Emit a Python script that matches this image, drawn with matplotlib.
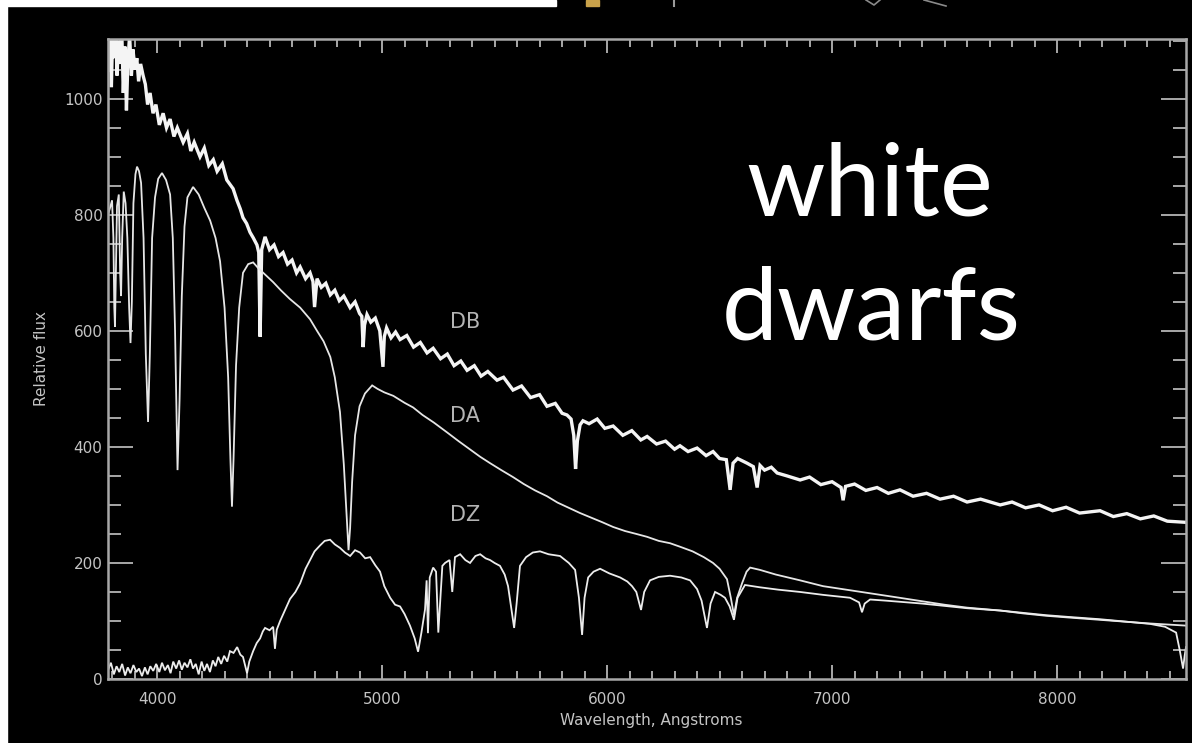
import numpy as np
import matplotlib
matplotlib.use('Agg')
import matplotlib.pyplot as plt
from matplotlib.patches import Rectangle
from matplotlib.lines import Line2D
from matplotlib.ticker import MultipleLocator, FixedLocator

# spectra: (wavelength [A], relative flux)
db_spec = [
    (3782, 1050), (3790, 1110), (3797, 1020), (3803, 1120), (3810, 1070), (3816, 1130),
    (3822, 1040), (3829, 1100), (3836, 1060), (3843, 1120), (3850, 1010), (3857, 1090),
    (3864, 980), (3870, 1060), (3878, 1110), (3886, 1040), (3893, 1085), (3902, 1050),
    (3910, 1070), (3918, 1030), (3927, 1060), (3938, 1040), (3948, 1025), (3958, 990),
    (3969, 1010), (3982, 975), (3995, 990), (4010, 955), (4027, 975), (4042, 950),
    (4058, 965), (4075, 935), (4090, 950), (4116, 925), (4135, 940), (4150, 910),
    (4165, 925), (4191, 900), (4210, 915), (4230, 885), (4250, 895), (4267, 875),
    (4290, 888), (4310, 860), (4338, 845), (4355, 825), (4370, 810), (4382, 795),
    (4398, 785), (4413, 770), (4428, 760), (4444, 748), (4452, 735), (4458, 590),
    (4465, 740), (4480, 762), (4500, 740), (4520, 748), (4540, 728), (4560, 735),
    (4580, 715), (4600, 722), (4620, 700), (4636, 710), (4660, 690), (4680, 700),
    (4693, 685), (4700, 641), (4711, 690), (4730, 675), (4750, 682), (4770, 662),
    (4790, 670), (4810, 652), (4830, 660), (4858, 640), (4880, 650), (4900, 630),
    (4910, 625), (4916, 572), (4922, 610), (4933, 628), (4950, 615), (4970, 622),
    (4990, 600), (5004, 538), (5010, 590), (5020, 605), (5040, 588), (5060, 598),
    (5080, 585), (5110, 592), (5140, 572), (5170, 580), (5200, 562), (5227, 570),
    (5260, 552), (5290, 560), (5320, 540), (5350, 548), (5378, 532), (5410, 540),
    (5440, 522), (5470, 530), (5511, 515), (5540, 520), (5582, 498), (5620, 505),
    (5660, 485), (5700, 490), (5733, 470), (5770, 475), (5800, 458), (5822, 455),
    (5840, 448), (5852, 420), (5860, 362), (5868, 410), (5880, 438), (5893, 445),
    (5920, 440), (5956, 448), (5990, 432), (6027, 436), (6070, 420), (6110, 428),
    (6150, 412), (6178, 418), (6220, 405), (6260, 410), (6300, 396), (6324, 402),
    (6360, 392), (6400, 398), (6440, 385), (6471, 392), (6500, 380), (6530, 378),
    (6547, 326), (6560, 372), (6580, 380), (6622, 372), (6650, 366), (6667, 330),
    (6680, 368), (6700, 360), (6730, 365), (6756, 355), (6800, 350), (6858, 343),
    (6900, 348), (6950, 335), (7000, 340), (7040, 330), (7049, 308), (7060, 332),
    (7100, 336), (7150, 325), (7200, 330), (7250, 320), (7302, 326), (7360, 315),
    (7420, 320), (7480, 310), (7540, 315), (7600, 305), (7660, 310), (7747, 300),
    (7800, 305), (7860, 295), (7920, 300), (7980, 290), (8040, 296), (8100, 286),
    (8191, 290), (8250, 280), (8310, 285), (8370, 276), (8430, 281), (8490, 272),
    (8573, 270),
]

da_spec = [
    (3782, 800), (3791, 812), (3800, 825), (3806, 760), (3810, 640), (3813, 607),
    (3817, 700), (3822, 815), (3830, 835), (3836, 700), (3840, 660), (3845, 760),
    (3852, 840), (3860, 820), (3868, 760), (3876, 640), (3882, 579), (3888, 650),
    (3895, 820), (3904, 870), (3911, 883), (3920, 875), (3929, 855), (3940, 760),
    (3950, 560), (3960, 443), (3968, 560), (3978, 760), (3991, 830), (4005, 862),
    (4022, 872), (4040, 860), (4058, 835), (4070, 760), (4080, 600), (4091, 360),
    (4100, 480), (4110, 660), (4122, 780), (4135, 830), (4160, 848), (4185, 835),
    (4210, 812), (4236, 790), (4260, 760), (4280, 720), (4300, 640), (4316, 520),
    (4326, 380), (4333, 297), (4340, 380), (4351, 540), (4365, 640), (4382, 700),
    (4405, 715), (4427, 718), (4450, 708), (4480, 697), (4516, 684), (4550, 670),
    (4590, 655), (4636, 640), (4680, 620), (4711, 600), (4740, 582), (4770, 555),
    (4790, 520), (4813, 460), (4830, 370), (4843, 280), (4851, 222), (4858, 260),
    (4867, 340), (4880, 420), (4900, 470), (4924, 492), (4956, 506), (4980, 500),
    (5010, 494), (5050, 488), (5100, 476), (5138, 468), (5180, 455), (5230, 442),
    (5289, 425), (5340, 410), (5390, 396), (5436, 383), (5480, 372), (5530, 360),
    (5582, 348), (5630, 336), (5680, 325), (5733, 315), (5780, 304), (5830, 295),
    (5880, 286), (5930, 278), (5980, 270), (6027, 262), (6080, 255), (6130, 250),
    (6178, 245), (6230, 238), (6280, 234), (6324, 228), (6380, 220), (6430, 210),
    (6471, 200), (6500, 190), (6533, 172), (6550, 140), (6564, 110), (6578, 140),
    (6600, 165), (6620, 185), (6636, 192), (6680, 188), (6750, 180), (6858, 170),
    (6960, 160), (7080, 153), (7200, 146), (7300, 140), (7400, 134), (7500, 128),
    (7600, 123), (7747, 118), (7850, 113), (7950, 109), (8050, 106), (8191, 102),
    (8300, 99), (8400, 96), (8573, 92),
]

dz_spec = [
    (3782, 15), (3795, 28), (3808, 8), (3820, 22), (3832, 12), (3845, 26), (3858, 6),
    (3870, 20), (3882, 10), (3895, 24), (3908, 12), (3920, 18), (3933, 5), (3946, 20),
    (3958, 8), (3970, 22), (3983, 14), (3996, 26), (4010, 12), (4022, 28), (4035, 15),
    (4048, 24), (4060, 10), (4072, 30), (4085, 18), (4098, 32), (4110, 16), (4122, 28),
    (4135, 20), (4148, 34), (4160, 18), (4172, 26), (4185, 8), (4198, 30), (4210, 14),
    (4222, 26), (4235, 12), (4248, 32), (4260, 22), (4272, 38), (4285, 26), (4298, 40),
    (4312, 30), (4324, 48), (4340, 45), (4356, 55), (4370, 42), (4382, 38), (4392, 22),
    (4400, 10), (4410, 30), (4427, 48), (4443, 62), (4458, 70), (4470, 82), (4480, 88),
    (4500, 84), (4516, 90), (4524, 52), (4532, 85), (4547, 100), (4570, 120), (4591, 138),
    (4615, 150), (4636, 165), (4660, 190), (4680, 205), (4700, 220), (4724, 230),
    (4745, 238), (4769, 240), (4790, 232), (4813, 226), (4835, 218), (4858, 212),
    (4880, 222), (4902, 218), (4925, 208), (4947, 210), (4970, 196), (4991, 185),
    (5010, 160), (5036, 140), (5058, 128), (5080, 125), (5100, 112), (5124, 92),
    (5145, 70), (5160, 47), (5175, 80), (5191, 120), (5198, 170), (5204, 79), (5212, 175),
    (5227, 192), (5240, 185), (5250, 80), (5258, 130), (5268, 195), (5280, 200),
    (5300, 205), (5312, 150), (5324, 210), (5347, 215), (5370, 205), (5391, 200),
    (5415, 212), (5436, 215), (5460, 208), (5480, 205), (5500, 200), (5524, 195),
    (5545, 180), (5560, 160), (5575, 120), (5587, 88), (5598, 130), (5613, 195),
    (5640, 210), (5670, 218), (5702, 220), (5740, 215), (5791, 212), (5830, 200),
    (5858, 188), (5875, 140), (5889, 76), (5900, 140), (5916, 175), (5940, 185),
    (5969, 190), (6010, 182), (6058, 175), (6090, 168), (6111, 160), (6130, 150),
    (6151, 119), (6165, 150), (6191, 170), (6230, 176), (6280, 178), (6330, 175),
    (6369, 170), (6400, 155), (6420, 135), (6444, 88), (6460, 130), (6480, 150),
    (6505, 145), (6524, 140), (6545, 125), (6564, 102), (6580, 140), (6613, 162),
    (6680, 158), (6760, 154), (6858, 150), (6960, 145), (7080, 140), (7120, 132),
    (7133, 115), (7145, 130), (7169, 137), (7240, 135), (7302, 133), (7400, 130),
    (7500, 126), (7600, 122), (7747, 118), (7850, 114), (7950, 110), (8050, 107),
    (8191, 103), (8300, 99), (8413, 95), (8480, 90), (8529, 80), (8545, 50), (8560, 18),
    (8567, 40), (8573, 55),
]

spec_names = ['DB', 'DA', 'DZ']
name_pos = [(5369, 615), (5369, 453), (5369, 283)]
y_ticks = [0, 200, 400, 600, 800, 1000]
x_ticks = [4000, 5000, 6000, 7000, 8000]

W, H = 1192, 743
fig = plt.figure(figsize=(W / 100, H / 100), dpi=100, facecolor='black')

# slide remnants around the plot
fig.patches.append(Rectangle((0, 0), 7 / W, 1, transform=fig.transFigure, color='white', zorder=0))
fig.patches.append(Rectangle((0, 1 - 6 / H), 556 / W, 6 / H, transform=fig.transFigure, color='white', zorder=0))
fig.patches.append(Rectangle((586 / W, 1 - 6 / H), 13 / W, 6 / H, transform=fig.transFigure, color='#c9a24a', zorder=0))
fig.add_artist(Line2D([674 / W, 674 / W], [1, 1 - 6 / H], color='#9a9a9a', lw=1.5))
fig.add_artist(Line2D([866 / W, 874 / W, 880 / W], [1, 1 - 5 / H, 1], color='#8a8a8a', lw=1.2))
fig.add_artist(Line2D([924 / W, 946 / W], [1, 1 - 6 / H], color='#8a8a8a', lw=1.2))

ax = fig.add_axes([108 / W, 1 - 679 / H, (1186 - 108) / W, (679 - 39) / H])
ax.set_facecolor('black')

for spec, col, lw in [(db_spec, '#f4f4f4', 2.4), (da_spec, '#e6e6e6', 1.3), (dz_spec, '#ececec', 1.3)]:
    w, f = np.array(spec).T
    ax.plot(w, f, color=col, lw=lw, solid_joinstyle='miter')

for name, (x, y) in zip(spec_names, name_pos):
    ax.text(x, y, name, color='#b4b4b4', fontsize=15, ha='center', va='center')

ax.set_xlim(3782, 8573)
ax.set_ylim(0, 1103)
ax.xaxis.set_major_locator(FixedLocator(x_ticks))
ax.xaxis.set_minor_locator(MultipleLocator(100))
ax.yaxis.set_major_locator(FixedLocator(y_ticks))
ax.yaxis.set_minor_locator(MultipleLocator(50))

for s in ax.spines.values():
    s.set_color('#a8a8a8')
    s.set_linewidth(1.8)

ax.tick_params(axis='x', which='major', direction='in', length=10, width=1.4,
               color='#a8a8a8', top=True, labelcolor='#c4c4c4', labelsize=11, pad=9)
ax.tick_params(axis='x', which='minor', direction='in', length=5.5, width=1.4,
               color='#a8a8a8', top=True)
ax.tick_params(axis='y', which='major', direction='in', length=18, width=1.4,
               color='#a8a8a8', right=True, labelcolor='#c4c4c4', labelsize=11, pad=4)
ax.tick_params(axis='y', which='minor', direction='in', length=9.5, width=1.4,
               color='#a8a8a8', right=True)

fig.text(42 / W, 1 - 358 / H, 'Relative flux', rotation=90, color='#c4c4c4',
         fontsize=11, ha='center', va='center')
fig.text(651 / W, 1 - 720 / H, 'Wavelength, Angstroms', color='#c4c4c4',
         fontsize=11, ha='center', va='center')

fig.text(870 / W, 1 - 215 / H, 'white', color='white', fontsize=72,
         family=['Lato', 'DejaVu Sans'], ha='center', va='baseline')
fig.text(871 / W, 1 - 340 / H, 'dwarfs', color='white', fontsize=72,
         family=['Lato', 'DejaVu Sans'], ha='center', va='baseline')

fig.savefig('out.png', dpi=100, facecolor='black')
